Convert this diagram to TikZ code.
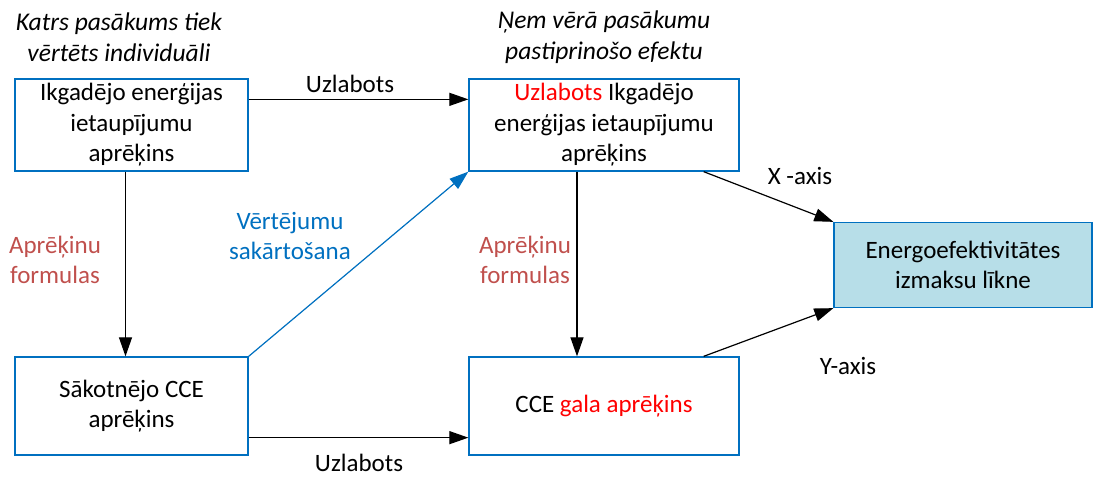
\documentclass[tikz,border=0pt]{standalone}
\usepackage{fontspec}
\setmainfont{Carlito}
\usetikzlibrary{arrows.meta,calc}
\definecolor{boxblue}{HTML}{0070C0}
\definecolor{fillblue}{HTML}{B7DEE8}
\definecolor{formred}{HTML}{C0504D}
\definecolor{txtred}{HTML}{FF0000}
\tikzset{
  box/.style={draw=boxblue, line width=1.3pt, rectangle, inner sep=0pt, align=center,
    font=\fontsize{25}{30.5}\selectfont},
  lbl/.style={align=center, inner sep=0pt, font=\fontsize{25}{30.5}\selectfont},
  note/.style={lbl, font=\fontsize{25.5}{30.5}\selectfont\itshape},
  arr/.style={line width=1.2pt, -{Triangle[length=19pt,width=13pt]}},
}
\begin{document}
\begin{tikzpicture}[x=1pt,y=-1pt]
\useasboundingbox (0,0) rectangle (1093,477);
\node[box, minimum width=233pt, minimum height=92pt] (A) at (131.5,125) {Ikgadējo enerģijas\\ietaupījumu\\aprēķins};
\node[box, minimum width=270pt, minimum height=92pt] (B) at (604,125) {\textcolor{txtred}{Uzlabots} Ikgadējo\\enerģijas ietaupījumu\\aprēķins};
\node[box, minimum width=233pt, minimum height=98pt] (C) at (131.5,406) {Sākotnējo CCE\\aprēķins};
\node[box, minimum width=270pt, minimum height=98pt] (D) at (604,406) {CCE \textcolor{txtred}{gala aprēķins}};
\node[box, fill=fillblue, minimum width=258pt, minimum height=85pt] (E) at (963,265) {Energoefektivitātes\\izmaksu līkne};

\node[note] (n1) at (119,37) {Katrs pasākums tiek\\vērtēts individuāli};
\node[note] (n2) at (604,37) {Ņem vērā pasākumu\\pastiprinošo efektu};

\draw[arr] ([yshift=-21pt]A.north east) -- ([yshift=-21pt]B.north west);
\draw[arr] ([xshift=-6pt]A.south) -- ([xshift=-6pt]C.north);
\draw[arr, draw=boxblue, fill=boxblue] (C.north east) -- (B.south west);
\draw[arr] ([yshift=18pt]C.south east) -- ([yshift=18pt]D.south west);
\draw[arr] ([xshift=-27pt]B.south) -- ([xshift=-27pt]D.north);
\draw[arr] ([xshift=-36pt]B.south east) -- (E.north west);
\draw[arr] ([xshift=-36pt]D.north east) -- (E.south west);

\node[lbl] (u1) at (350,84) {Uzlabots};
\node[lbl] (u2) at (359,463) {Uzlabots};
\node[lbl] (xa) at (800,176) {X -axis};
\node[lbl] (ya) at (848,366) {Y-axis};
\node[lbl, text=formred] (f1) at (55,260) {Aprēķinu\\formulas};
\node[lbl, text=formred] (f2) at (525,260) {Aprēķinu\\formulas};
\node[lbl, text=boxblue] (v1) at (290,236) {Vērtējumu\\sakārtošana};
\end{tikzpicture}
\end{document}
